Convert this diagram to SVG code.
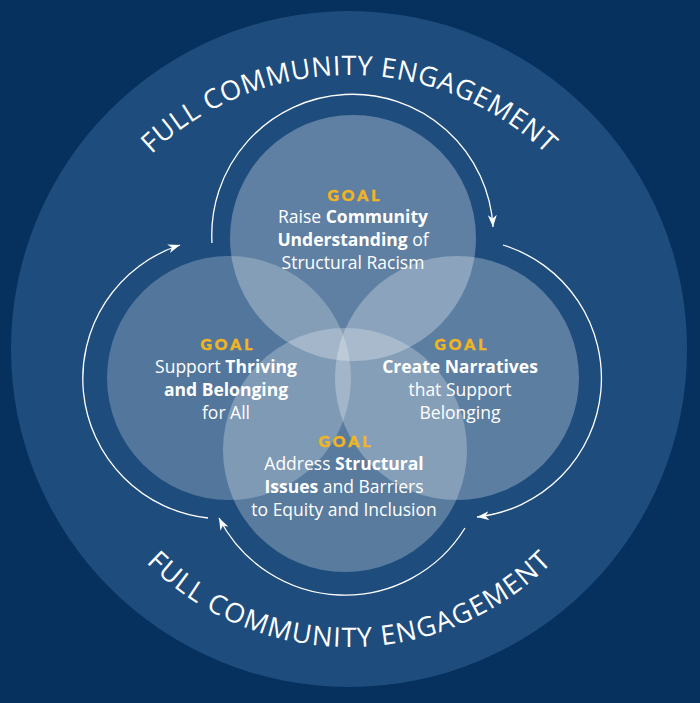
<svg xmlns="http://www.w3.org/2000/svg" width="700" height="703" viewBox="0 0 700 703">
  <style>
    .goal { font-family: Lato, "Open Sans", sans-serif; font-weight: 900; font-size: 15.5px; fill: #f2b51f; stroke: #f2b51f; stroke-width: 0.5px; letter-spacing: 3.2px; text-anchor: middle; }
    .body { font-family: "Open Sans", "Noto Sans", sans-serif; font-weight: 400; font-size: 17.5px; fill: #ffffff; text-anchor: middle; }
    .b { font-weight: 700; }
    .ring { font-family: "Open Sans", "Noto Sans", sans-serif; font-weight: 400; font-size: 27px; fill: #ffffff; }
    .conn { fill: none; stroke: #ffffff; stroke-width: 1.3; marker-end: url(#arrow); }
    .venn { fill: #ffffff; }
  </style>
  <defs>
    <marker id="arrow" markerUnits="userSpaceOnUse" markerWidth="14" markerHeight="10" refX="12" refY="4.5" orient="auto">
      <path d="M0,0 L12,4.5 L0,9 L3.5,4.5 Z" fill="#ffffff"/>
    </marker>
    <path id="topArc" d="M63,361 A286,286 0 0 1 635,361"/>
    <path id="botArc" d="M63,361 A286,286 0 0 0 635,361"/>
  </defs>

  <rect id="background" x="0" y="0" width="700" height="703" fill="#06315e"/>
  <circle id="outer-ring" cx="349" cy="349" r="338" fill="#1e4d7d"/>

  <g id="ring-labels">
    <text class="ring"><textPath href="#topArc" startOffset="50%" text-anchor="middle" textLength="436" lengthAdjust="spacing">FULL COMMUNITY ENGAGEMENT</textPath></text>
    <text class="ring"><textPath href="#botArc" startOffset="50%" text-anchor="middle" textLength="451" lengthAdjust="spacing">FULL COMMUNITY ENGAGEMENT</textPath></text>
  </g>

  <g id="connectors">
    <path class="conn" d="M212,243 A140.7,140.7 0 1 1 493,227"/>
    <path class="conn" d="M503,245 A139.5,139.5 0 0 1 477,517"/>
    <path class="conn" d="M465,528 A141.2,141.2 0 0 1 219,518"/>
    <path class="conn" d="M208,518 A140.3,140.3 0 0 1 180,245"/>
  </g>

  <g id="node-top">
    <circle class="venn" cx="353" cy="238" r="123" fill-opacity="0.29"/>
  </g>
  <g id="node-left">
    <circle class="venn" cx="229" cy="378" r="122" fill-opacity="0.24"/>
  </g>
  <g id="node-right">
    <circle class="venn" cx="457" cy="378" r="122" fill-opacity="0.28"/>
  </g>
  <g id="node-bottom">
    <circle class="venn" cx="345" cy="450" r="122" fill-opacity="0.26"/>
  </g>

  <g id="label-top">
    <text class="goal" x="355" y="201">GOAL</text>
    <text class="body" x="353" y="223">Raise <tspan class="b">Community</tspan></text>
    <text class="body" x="353" y="246"><tspan class="b">Understanding</tspan> of</text>
    <text class="body" x="353" y="269">Structural Racism</text>
  </g>
  <g id="label-left">
    <text class="goal" x="228" y="350">GOAL</text>
    <text class="body" x="226" y="373">Support <tspan class="b">Thriving</tspan></text>
    <text class="body b" x="226" y="396">and Belonging</text>
    <text class="body" x="226" y="419">for All</text>
  </g>
  <g id="label-right">
    <text class="goal" x="462" y="350">GOAL</text>
    <text class="body b" x="460" y="373">Create Narratives</text>
    <text class="body" x="460" y="396">that Support</text>
    <text class="body" x="460" y="419">Belonging</text>
  </g>
  <g id="label-bottom">
    <text class="goal" x="346" y="447">GOAL</text>
    <text class="body" x="344" y="470">Address <tspan class="b">Structural</tspan></text>
    <text class="body" x="344" y="493"><tspan class="b">Issues</tspan> and Barriers</text>
    <text class="body" x="344" y="516">to Equity and Inclusion</text>
  </g>
</svg>
